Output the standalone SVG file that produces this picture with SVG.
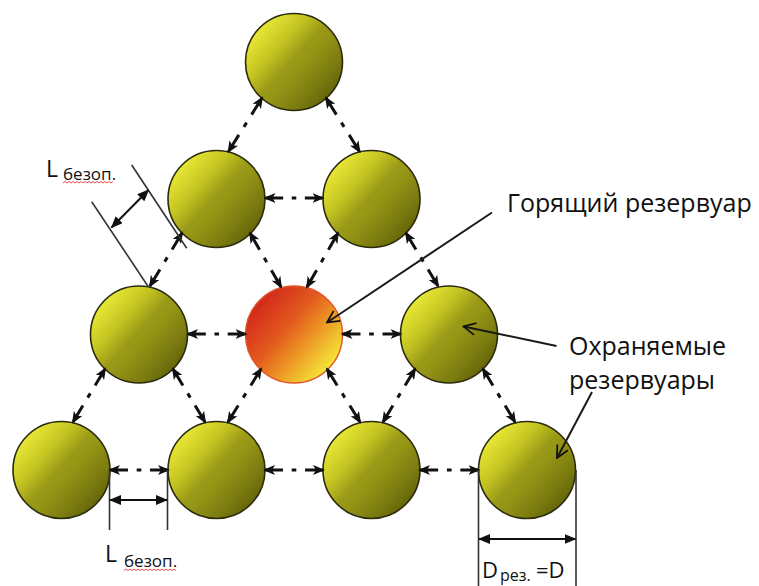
<svg xmlns="http://www.w3.org/2000/svg" width="759" height="586" viewBox="0 0 759 586">
<defs>
<linearGradient id="gy" x1="0.08" y1="0.12" x2="0.92" y2="0.88">
<stop offset="0" stop-color="#f0f03a"/>
<stop offset="0.3" stop-color="#c4c422"/>
<stop offset="0.48" stop-color="#9a9a18"/>
<stop offset="0.56" stop-color="#969616"/>
<stop offset="0.8" stop-color="#7a7a10"/>
<stop offset="1" stop-color="#5e5e06"/>
</linearGradient>
<linearGradient id="gr" x1="0.1" y1="0.15" x2="0.9" y2="0.85">
<stop offset="0" stop-color="#d0241a"/>
<stop offset="0.4" stop-color="#e25a1e"/>
<stop offset="0.6" stop-color="#eb8a22"/>
<stop offset="1" stop-color="#f6ee3a"/>
</linearGradient>
<marker id="ah" viewBox="0 0 12 10" refX="10" refY="5" markerWidth="12" markerHeight="10" markerUnits="userSpaceOnUse" orient="auto-start-reverse">
<path d="M0,0 L12,5 L0,10 L3,5 z" fill="#111"/>
</marker>
<marker id="dh" viewBox="0 0 12 10" refX="11" refY="5" markerWidth="12" markerHeight="10" markerUnits="userSpaceOnUse" orient="auto-start-reverse">
<path d="M0,0 L12,5 L0,10 z" fill="#111"/>
</marker>
<marker id="op" viewBox="0 0 14 14" refX="13" refY="7" markerWidth="14" markerHeight="14" markerUnits="userSpaceOnUse" orient="auto">
<path d="M1,1 L13,7 L1,13" fill="none" stroke="#111" stroke-width="1.8"/>
</marker>
</defs>
<style>
.tk{fill:url(#gy);stroke:#2a2a0e;stroke-width:1.6}
.fire{fill:url(#gr);stroke:#e2552a;stroke-width:1.4}
.cn line{stroke:#111;stroke-width:3;stroke-dasharray:31 15 8 15 31;marker-start:url(#ah);marker-end:url(#ah)}
.dim{stroke:#333;stroke-width:1.6;fill:none}
.dar{stroke:#111;stroke-width:2;marker-start:url(#dh);marker-end:url(#dh)}
.ld{stroke:#1a1a1a;stroke-width:2;fill:none;marker-end:url(#op)}
.t{font-family:"Open Sans","Noto Sans",sans-serif;fill:#111}
.wv{stroke:#e03a3a;stroke-width:0.9;fill:none}
</style>

<g id="tank-top"><circle class="tk" cx="294" cy="62" r="48.5"/></g>
<g id="tank-r2-1"><circle class="tk" cx="216.5" cy="199" r="48.5"/></g>
<g id="tank-r2-2"><circle class="tk" cx="371.5" cy="199" r="48.5"/></g>
<g id="tank-r3-1"><circle class="tk" cx="139" cy="334.5" r="48.5"/></g>
<g id="tank-burning"><circle class="fire" cx="294" cy="334.5" r="48.5"/></g>
<g id="tank-r3-3"><circle class="tk" cx="449" cy="334.5" r="48.5"/></g>
<g id="tank-r4-1"><circle class="tk" cx="61.5" cy="470" r="48.5"/></g>
<g id="tank-r4-2"><circle class="tk" cx="216.5" cy="470" r="48.5"/></g>
<g id="tank-r4-3"><circle class="tk" cx="371.5" cy="470" r="48.5"/></g>
<g id="tank-r4-4"><circle class="tk" cx="527" cy="470" r="48.5"/></g>

<g id="connectors" class="cn">
<line x1="262" y1="98" x2="228.5" y2="151.5" pathLength="100"/>
<line x1="326" y1="98" x2="359.5" y2="151.5" pathLength="100"/>
<line x1="265.5" y1="198" x2="322.5" y2="198" pathLength="100"/>
<line x1="182" y1="233" x2="150" y2="286" pathLength="100"/>
<line x1="250" y1="233" x2="281" y2="287" pathLength="100"/>
<line x1="338" y1="233" x2="307" y2="287" pathLength="100"/>
<line x1="406" y1="233" x2="438" y2="286" pathLength="100"/>
<line x1="188" y1="334" x2="245.5" y2="334" pathLength="100"/>
<line x1="342.5" y1="334" x2="400.5" y2="334" pathLength="100"/>
<line x1="105" y1="369" x2="73" y2="422" pathLength="100"/>
<line x1="173" y1="369" x2="205" y2="422" pathLength="100"/>
<line x1="261" y1="369" x2="228" y2="422" pathLength="100"/>
<line x1="327" y1="369" x2="360" y2="422" pathLength="100"/>
<line x1="415" y1="369" x2="383" y2="422" pathLength="100"/>
<line x1="483" y1="369" x2="515" y2="422" pathLength="100"/>
<line x1="110" y1="470" x2="168" y2="470" pathLength="100"/>
<line x1="265" y1="470" x2="323" y2="470" pathLength="100"/>
<line x1="420" y1="470" x2="478.5" y2="470" pathLength="100"/>
</g>

<g id="dimensions">
<line class="dim" x1="131.7" y1="165" x2="186.7" y2="248.3"/>
<line class="dim" x1="91.7" y1="201.7" x2="148.3" y2="286.7"/>
<line class="dar" x1="111.5" y1="227.5" x2="148.5" y2="190"/>
<line class="dim" x1="109.5" y1="470" x2="109.5" y2="530"/>
<line class="dim" x1="167.5" y1="470" x2="167.5" y2="530"/>
<line class="dar" x1="110" y1="500" x2="167" y2="500"/>
<line class="dim" x1="478.5" y1="470" x2="478.5" y2="586"/>
<line class="dim" x1="576" y1="470" x2="576" y2="586"/>
<line class="dar" x1="479" y1="539" x2="575.5" y2="539"/>
</g>

<g id="leaders">
<line class="ld" x1="492" y1="212.5" x2="327" y2="322.5"/>
<line class="ld" x1="556.5" y1="346" x2="463.5" y2="326.5"/>
<line class="ld" x1="592" y1="392" x2="557" y2="458"/>
</g>

<g id="labels">
<text class="t" x="46" y="177" font-size="23">L</text>
<text class="t" x="63" y="180" font-size="17">безоп.</text>
<polyline class="wv" points="63,183 65,181.5 67,183 69,181.5 71,183 73,181.5 75,183 77,181.5 79,183 81,181.5 83,183 85,181.5 87,183 89,181.5 91,183 93,181.5 95,183 97,181.5 99,183 101,181.5 103,183 105,181.5 107,183 109,181.5 111,183 113,181.5"/>
<text class="t" x="105" y="562" font-size="23">L</text>
<text class="t" x="124" y="567" font-size="17">безоп.</text>
<polyline class="wv" points="124,570.5 126,569 128,570.5 130,569 132,570.5 134,569 136,570.5 138,569 140,570.5 142,569 144,570.5 146,569 148,570.5 150,569 152,570.5 154,569 156,570.5 158,569 160,570.5 162,569 164,570.5 166,569 168,570.5 170,569 172,570.5 174,569 176,570.5"/>
<text class="t" x="482" y="578" font-size="22">D</text>
<text class="t" x="500" y="581" font-size="16">рез.</text>
<text class="t" x="536" y="578" font-size="22">=D</text>
<text class="t" x="507" y="212" font-size="25">Горящий резервуар</text>
<text class="t" x="569" y="355" font-size="25">Охраняемые</text>
<text class="t" x="569" y="389" font-size="25">резервуары</text>
</g>
</svg>
